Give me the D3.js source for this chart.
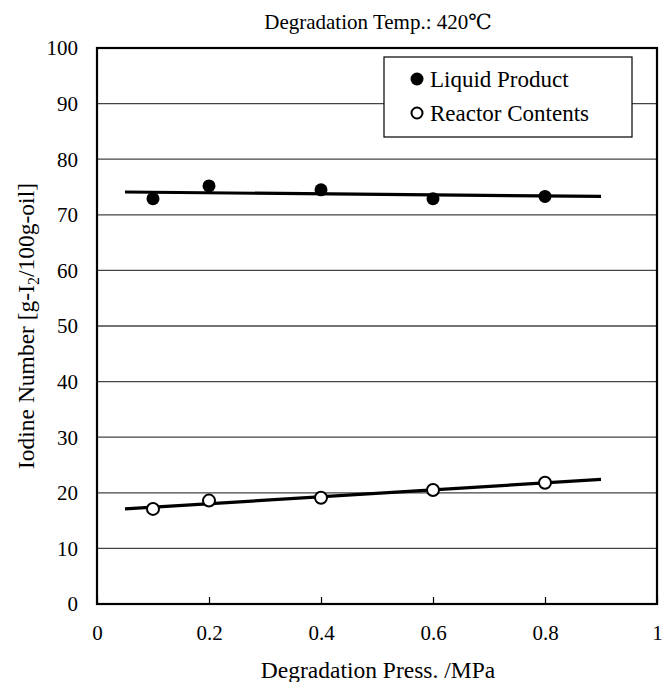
<!DOCTYPE html>
<html>
<head>
<meta charset="utf-8">
<script src="https://cdn.jsdelivr.net/npm/d3@7"></script>
<style>
  body { margin: 0; background: #fff; }
</style>
</head>
<body>
<div id="chart"></div>
<script>
// data
var pressures = [0.1, 0.2, 0.4, 0.6, 0.8];
var liquidProduct = [72.9, 75.2, 74.5, 72.9, 73.3];
var reactorContents = [17.1, 18.6, 19.1, 20.5, 21.8];
var trendX = [0.05, 0.9];
var liquidTrend = [74.1, 73.3];
var reactorTrend = [17.1, 22.4];
var xTicks = [0, 0.2, 0.4, 0.6, 0.8, 1];
var yTicks = [0, 10, 20, 30, 40, 50, 60, 70, 80, 90, 100];

var serif = '"Liberation Serif", "Times New Roman", "DejaVu Serif", serif';
var width = 662, height = 682;
var margin = {top: 48, right: 5, bottom: 78, left: 97};

var svg = d3.select('#chart').append('svg')
    .attr('width', width)
    .attr('height', height)
    .attr('font-family', serif);

var x = d3.scaleLinear().domain([0, 1]).range([margin.left, width - margin.right]);
var y = d3.scaleLinear().domain([0, 100]).range([height - margin.bottom, margin.top]);

// grid lines
svg.append('g')
    .selectAll('line')
    .data(yTicks.slice(1, -1))
    .enter().append('line')
    .attr('x1', x(0)).attr('x2', x(1))
    .attr('y1', function (d) { return y(d); })
    .attr('y2', function (d) { return y(d); })
    .style('stroke', '#444')
    .style('stroke-width', 1.3);

// y tick labels
svg.append('g')
    .selectAll('text')
    .data(yTicks)
    .enter().append('text')
    .attr('x', x(0) - 19)
    .attr('y', function (d) { return y(d); })
    .attr('dy', '0.35em')
    .attr('text-anchor', 'end')
    .attr('font-family', serif)
    .style('font-size', '21px')
    .text(function (d) { return d; });

// x axis ticks (inward) and labels
var xAxis = d3.axisBottom(x).tickValues(xTicks).tickSize(-7).tickPadding(18)
    .tickFormat(function (d) { return d; });
var gx = svg.append('g')
    .attr('transform', 'translate(0,' + y(0) + ')')
    .call(xAxis)
    .attr('font-family', serif)
    .attr('font-size', 21);
gx.select('.domain').remove();
gx.selectAll('line').style('stroke', '#000').style('stroke-width', 1.2);
gx.selectAll('text').attr('dy', '0.85em');

// frame
svg.append('rect')
    .attr('x', x(0)).attr('y', y(100))
    .attr('width', x(1) - x(0)).attr('height', y(0) - y(100))
    .style('fill', 'none')
    .style('stroke', '#000')
    .style('stroke-width', 2.2);

// trend lines
var line = d3.line()
    .x(function (d) { return x(d[0]); })
    .y(function (d) { return y(d[1]); });

[liquidTrend, reactorTrend].forEach(function (t) {
    svg.append('path')
        .datum(d3.zip(trendX, t))
        .attr('d', line)
        .style('fill', 'none')
        .style('stroke', '#000')
        .style('stroke-width', 3.2);
});

// points
svg.append('g')
    .selectAll('circle')
    .data(d3.zip(pressures, liquidProduct))
    .enter().append('circle')
    .attr('cx', function (d) { return x(d[0]); })
    .attr('cy', function (d) { return y(d[1]); })
    .attr('r', 6.5)
    .style('fill', '#000');

svg.append('g')
    .selectAll('circle')
    .data(d3.zip(pressures, reactorContents))
    .enter().append('circle')
    .attr('cx', function (d) { return x(d[0]); })
    .attr('cy', function (d) { return y(d[1]); })
    .attr('r', 6)
    .style('fill', '#fff')
    .style('stroke', '#000')
    .style('stroke-width', 2);

// legend
var legend = svg.append('g').attr('transform', 'translate(384,57)');
legend.append('rect')
    .attr('width', 248).attr('height', 80)
    .style('fill', '#fff')
    .style('stroke', '#000')
    .style('stroke-width', 1.2);
legend.append('circle')
    .attr('cx', 33).attr('cy', 22).attr('r', 6.5)
    .style('fill', '#000');
legend.append('circle')
    .attr('cx', 33).attr('cy', 56).attr('r', 5.5)
    .style('fill', '#fff').style('stroke', '#000').style('stroke-width', 2);
legend.append('text')
    .attr('x', 46).attr('y', 22).attr('dy', '0.35em')
    .style('font-size', '23px')
    .text('Liquid Product');
legend.append('text')
    .attr('x', 46).attr('y', 56).attr('dy', '0.35em')
    .style('font-size', '23px')
    .text('Reactor Contents');

// title
svg.append('text')
    .attr('x', 378).attr('y', 29)
    .attr('text-anchor', 'middle')
    .style('font-size', '21px')
    .text('Degradation Temp.: 420℃');

// axis titles
svg.append('text')
    .attr('x', 378).attr('y', 678)
    .attr('text-anchor', 'middle')
    .style('font-size', '23.5px')
    .text('Degradation Press. /MPa');

var yl = svg.append('text')
    .attr('transform', 'translate(34,' + ((y(0) + y(100)) / 2) + ') rotate(-90)')
    .attr('text-anchor', 'middle')
    .style('font-size', '23.5px');
yl.append('tspan').text('Iodine Number [g-I');
yl.append('tspan').attr('dy', 5).style('font-size', '16px').text('2');
yl.append('tspan').attr('dy', -5).text('/100g-oil]');
</script>
</body>
</html>
